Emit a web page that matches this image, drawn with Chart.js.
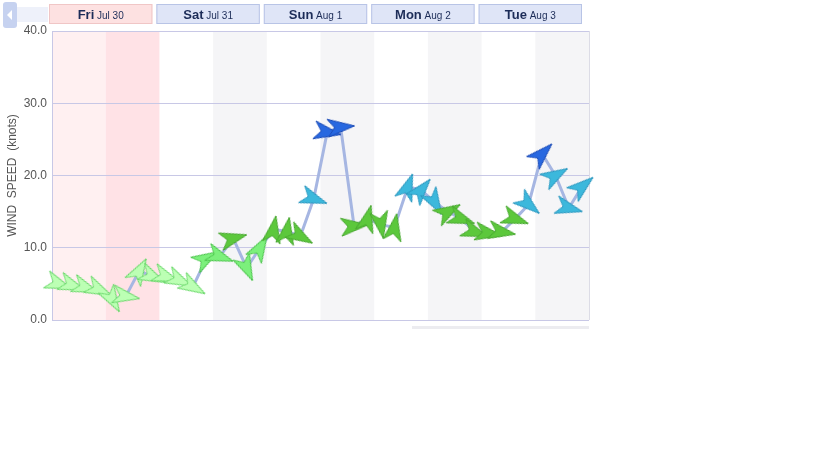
<!DOCTYPE html>
<html><head><meta charset="utf-8">
<script src="https://cdn.jsdelivr.net/npm/chart.js@4"></script>
<style>html,body{margin:0;padding:0;background:#fff}#wrap{width:816px;height:460px;position:relative}</style>
</head><body><div id="wrap"><canvas id="c" width="816" height="460"></canvas></div>
<script>
// ---- data ----
const dayNames = ["Fri", "Sat", "Sun", "Mon", "Tue"];
const dayDates = ["Jul 30", "Jul 31", "Aug 1", "Aug 2", "Aug 3"];
const hours = ["01:30","04:30","07:30","10:30","13:30","16:30","19:30","22:30"];
const speeds = [5.0,4.8,4.5,4.2,2.8,3.3,6.8,6.0,
                6.0,5.5,4.6,8.5,8.8,11.3,7.2,10.0,
                12.5,12.3,11.6,16.8,26.0,26.7,13.0,14.0,
                13.2,12.8,18.4,18.0,16.3,15.0,14.0,12.2,
                12.0,12.2,14.0,16.0,23.0,20.0,15.5,18.5];
const directions = [20,20,20,25,60,10,-60,25,
                    20,25,30,-30,20,-15,65,-60,
                    -80,-80,30,20,10,-5,-5,-75,
                    80,-80,-70,-50,60,-30,20,20,
                    10,10,20,40,-45,-30,15,-40];
const yTicks = [0, 10, 20, 30, 40];

const labels = [];
dayNames.forEach(d => hours.forEach(h => labels.push(d + " " + h)));

// ---- arrow markers ----
const arrowCache = {};
function speedColor(v) {
  if (v < 7) return ["#bcffb4", "#6ad86a"];
  if (v < 11) return ["#7cf07c", "#4cc44c"];
  if (v < 15.2) return ["#5cc83c", "#48a830"];
  if (v < 22) return ["#3cb8dc", "#2c98c0"];
  return ["#2868e0", "#1c4cb8"];
}
function arrowCanvas(v) {
  const [fill, stroke] = speedColor(v);
  const key = fill;
  if (arrowCache[key]) return arrowCache[key];
  const c = document.createElement("canvas");
  c.width = 30; c.height = 20;
  const g = c.getContext("2d");
  g.beginPath();
  g.moveTo(29, 10);
  g.lineTo(2, 1);
  g.lineTo(9, 10);
  g.lineTo(2, 19);
  g.closePath();
  g.fillStyle = fill; g.fill();
  g.lineWidth = 1; g.strokeStyle = stroke; g.stroke();
  arrowCache[key] = c;
  return c;
}

// ---- background + header plugin ----
const bgPlugin = {
  id: "bg",
  beforeDraw(chart) {
    const ctx = chart.ctx, a = chart.chartArea;
    const n = labels.length, step = (a.right - a.left) / n;
    ctx.save();
    for (let d = 0; d < dayNames.length; d++) {
      const x0 = a.left + d * 8 * step, xm = x0 + 4 * step, x1 = x0 + 8 * step;
      if (d === 0) {
        ctx.fillStyle = "#fff0f1"; ctx.fillRect(x0, a.top, xm - x0, a.bottom - a.top);
        ctx.fillStyle = "#ffe2e6"; ctx.fillRect(xm, a.top, x1 - xm, a.bottom - a.top);
      } else {
        ctx.fillStyle = "#f5f5f7"; ctx.fillRect(xm, a.top, x1 - xm, a.bottom - a.top);
      }
      // header box
      const bx = x0 - 3, bw = x1 - x0 - 4;
      ctx.fillStyle = d === 0 ? "#fde1e1" : "#dfe5f7";
      ctx.fillRect(bx, 4, bw, 20);
      ctx.strokeStyle = d === 0 ? "#f0c6c6" : "#b8c4e6";
      ctx.lineWidth = 1;
      ctx.strokeRect(bx + 0.5, 4.5, bw - 1, 19);
      ctx.fillStyle = "#1c2c58";
      ctx.font = "bold 13px Arial, 'Liberation Sans'";
      const w1 = ctx.measureText(dayNames[d]).width;
      ctx.font = "10px Arial, 'Liberation Sans'";
      const w2 = ctx.measureText(" " + dayDates[d]).width;
      let tx = bx + bw / 2 - (w1 + w2) / 2;
      ctx.textBaseline = "alphabetic";
      ctx.font = "bold 13px Arial, 'Liberation Sans'";
      ctx.fillText(dayNames[d], tx, 19);
      ctx.font = "10px Arial, 'Liberation Sans'";
      ctx.fillText(" " + dayDates[d], tx + w1, 19);
    }
    // nav button
    ctx.fillStyle = "#eef1fa"; ctx.fillRect(16, 7, 32, 15);
    ctx.fillStyle = "#c6d2f0";
    ctx.beginPath(); ctx.roundRect(3, 2, 14, 26, 3); ctx.fill();
    ctx.fillStyle = "#ffffff";
    ctx.beginPath(); ctx.moveTo(7, 15); ctx.lineTo(12, 10); ctx.lineTo(12, 20); ctx.closePath(); ctx.fill();
    // right border and faint bottom strip
    ctx.strokeStyle = "#dcdce6"; ctx.lineWidth = 1;
    ctx.beginPath(); ctx.moveTo(a.right + 0.5, a.top); ctx.lineTo(a.right + 0.5, a.bottom); ctx.stroke();
    ctx.fillStyle = "#ececf0"; ctx.fillRect(412, a.bottom + 6, a.right - 412, 3);
    ctx.restore();
  }
};

new Chart(document.getElementById("c"), {
  type: "line",
  data: {
    labels: labels,
    datasets: [{
      data: speeds,
      borderColor: "#a6b6e2",
      borderWidth: 3,
      tension: 0,
      fill: false,
      clip: false,
      pointStyle: ctx => arrowCanvas(speeds[ctx.dataIndex]),
      rotation: ctx => directions[ctx.dataIndex],
      pointRadius: 13,
      pointHoverRadius: 13
    }]
  },
  options: {
    responsive: false,
    animation: false,
    events: [],
    layout: { padding: { top: 31, right: 227, bottom: 140, left: 0 } },
    plugins: { legend: { display: false }, tooltip: { enabled: false } },
    scales: {
      x: { type: "category", offset: true, display: false },
      y: {
        min: 0, max: 40,
        afterBuildTicks: s => { s.ticks = yTicks.map(v => ({ value: v })); },
        afterFit: s => { s.width = 52; },
        grid: { color: "#c8c8e6", drawTicks: false, lineWidth: 1 },
        border: { color: "#c8c8e6" },
        ticks: {
          padding: 5, color: "#555",
          font: { family: "Arial, 'Liberation Sans'", size: 12 },
          callback: v => Number(v).toFixed(1)
        },
        title: {
          display: true, text: "WIND  SPEED  (knots)", color: "#555",
          font: { family: "Arial, 'Liberation Sans'", size: 12 },
          padding: { top: 5, bottom: 0 }
        }
      }
    }
  },
  plugins: [bgPlugin]
});
</script></body></html>
